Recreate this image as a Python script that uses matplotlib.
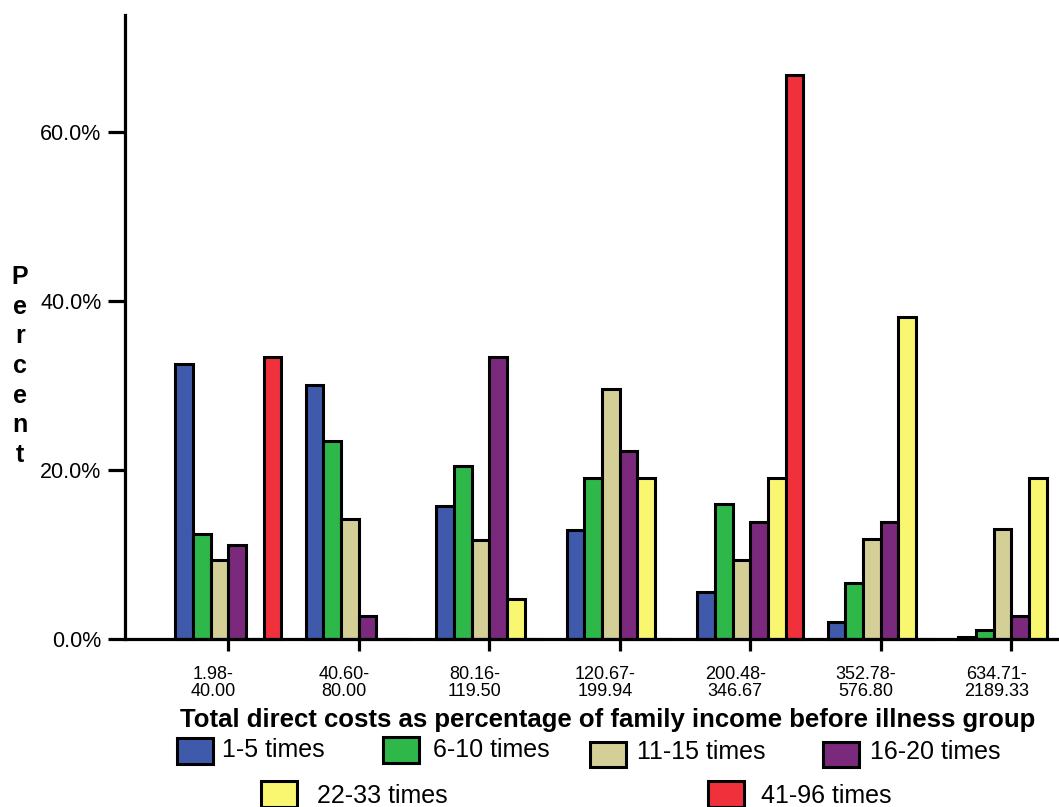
import matplotlib
matplotlib.use("Agg")
import matplotlib.pyplot as plt
import matplotlib.transforms as mtransforms
from matplotlib.patches import Rectangle
import numpy as np

plt.rcParams['font.family'] = ['Liberation Sans', 'DejaVu Sans']

# Cost groups (x categories)
categories = ["1.98-\n40.00", "40.60-\n80.00", "80.16-\n119.50", "120.67-\n199.94",
              "200.48-\n346.67", "352.78-\n576.80", "634.71-\n2189.33"]

# Series: percentage of each frequency group falling in each cost group
series_names = ["1-5 times", "6-10 times", "11-15 times", "16-20 times",
                "22-33 times", "41-96 times"]
times_1_5 = [32.5, 30.1, 15.8, 12.9, 5.6, 2.1, 0.3]
times_6_10 = [12.4, 23.4, 20.5, 19.0, 16.0, 6.6, 1.1]
times_11_15 = [9.4, 14.2, 11.7, 29.6, 9.4, 11.8, 13.0]
times_16_20 = [11.1, 2.8, 33.3, 22.2, 13.9, 13.9, 2.8]
times_22_33 = [0.0, 0.0, 4.8, 19.0, 19.0, 38.1, 19.0]
times_41_96 = [33.3, 0.0, 0.0, 0.0, 66.7, 0.0, 0.0]
series_values = [times_1_5, times_6_10, times_11_15, times_16_20, times_22_33, times_41_96]
series_colors = ["#3F5AAA", "#2EB84A", "#D4CE97", "#7B297C", "#F9F770", "#F0313B"]

y_ticks = [0, 20, 40, 60]
y_tick_labels = ["0.0%", "20.0%", "40.0%", "60.0%"]

W, H = 1059, 807
fig = plt.figure(figsize=(W / 100, H / 100), dpi=100)

# axes placed in pixel terms
ax_left, ax_right, ax_top, ax_bottom = 124.5, 1059.0, 15.0, 639.3
ax = fig.add_axes([ax_left / W, 1 - ax_bottom / H,
                   (ax_right - ax_left) / W, (ax_bottom - ax_top) / H])

px_per_cat = 130.5
first_cat_px = 228.3
x_lo = (ax_left - first_cat_px) / px_per_cat
x_hi = (ax_right - first_cat_px) / px_per_cat
px_per_pct = (639.3 - 131.5) / 60.0
y_hi = (ax_bottom - ax_top) / px_per_pct
ax.set_xlim(x_lo, x_hi)
ax.set_ylim(0, y_hi)

n_series = len(series_values)
bar_w = 0.1356
x = np.arange(len(categories))
for i, (vals, col) in enumerate(zip(series_values, series_colors)):
    offs = (i - (n_series - 1) / 2) * bar_w
    ax.bar(x + offs, vals, width=bar_w, color=col, edgecolor="black",
           linewidth=2.2, zorder=3, clip_on=False)

for side in ("top", "right"):
    ax.spines[side].set_visible(False)
ax.spines["left"].set_linewidth(2.3)
ax.spines["bottom"].set_linewidth(2.3)
ax.spines["bottom"].set_zorder(4)

ax.set_yticks(y_ticks)
ax.set_yticklabels(y_tick_labels, fontsize=15.5)
ax.tick_params(axis="y", length=12.2, width=2.3, pad=4.3, direction="out")

ax.set_xticks(x)
ax.set_xticklabels(categories, fontsize=13, linespacing=1.02)
ax.tick_params(axis="x", length=8.5, width=2.3, pad=10.5, direction="out")
shift = mtransforms.ScaledTranslation(-15 / 100, 0, fig.dpi_scale_trans)
for lab in ax.get_xticklabels():
    lab.set_transform(lab.get_transform() + shift)


def fx(px):
    return px / W


def fy(py):
    return 1 - py / H


# axis titles
fig.text(fx(607.5), fy(727), "Total direct costs as percentage of family income before illness group",
         fontsize=18.5, fontweight="bold", ha="center", va="baseline")
fig.text(fx(20), fy(366), "P\ne\nr\nc\ne\nn\nt", fontsize=18, fontweight="bold",
         ha="center", va="center", linespacing=1.3)

# legend entries: (patch left, patch top, text left, text center y)
legend_layout = [
    (176.7, 738.3, 221.7, 750),
    (382.7, 737.0, 433.3, 750),
    (590.0, 741.7, 636.7, 752),
    (822.7, 741.7, 870.0, 752),
    (261.0, 781.0, 316.7, 796),
    (708.3, 781.0, 760.7, 796),
]
pw, ph = 36.0, 25.5
for (pl, pt, tl, ty), name, col in zip(legend_layout, series_names, series_colors):
    fig.patches.append(Rectangle((fx(pl), fy(pt + ph)), pw / W, ph / H,
                                 transform=fig.transFigure, facecolor=col,
                                 edgecolor="black", linewidth=2.2))
    fig.text(fx(tl), fy(ty), name, fontsize=18, ha="left", va="center")

fig.savefig("out.png", dpi=100)
